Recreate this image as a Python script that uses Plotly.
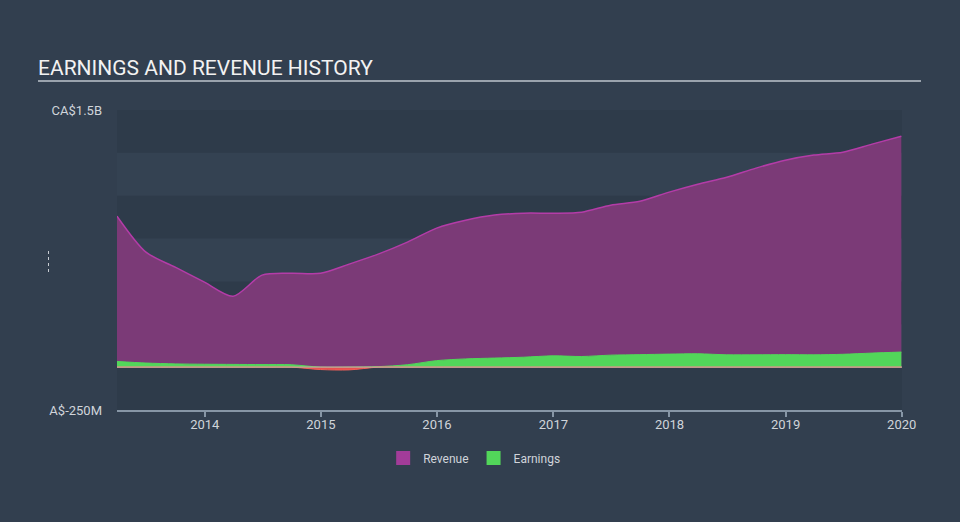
import plotly.graph_objects as go

dates = [
    "2013-03-31", "2013-06-30", "2013-09-30", "2013-12-31",
    "2014-03-31", "2014-06-30", "2014-09-30", "2014-12-31",
    "2015-03-31", "2015-06-30", "2015-09-30", "2015-12-31",
    "2016-03-31", "2016-06-30", "2016-09-30", "2016-12-31",
    "2017-03-31", "2017-06-30", "2017-09-30", "2017-12-31",
    "2018-03-31", "2018-06-30", "2018-09-30", "2018-12-31",
    "2019-03-31", "2019-06-30", "2019-09-30", "2019-12-31",
]
revenue_m = [881, 671, 583, 496, 414, 537, 548, 548,
             601, 659, 729, 811, 857, 887, 898, 898,
             904, 945, 968, 1021, 1067, 1108, 1161, 1207,
             1237, 1254, 1301, 1347]
earnings_m = [33, 24, 19, 17, 16, 15, 14, -14,
              -16, 3, 14, 38, 48, 53, 58, 66,
              62, 70, 73, 76, 78, 72, 72, 73,
              72, 75, 82, 88]

y_tick_vals = [-250e6, 1.5e9]
y_tick_text = ["A$-250M", "CA$1.5B"]
x_tick_vals = ["2014-01-01", "2015-01-01", "2016-01-01", "2017-01-01",
               "2018-01-01", "2019-01-01", "2020-01-01"]
x_tick_text = ["2014", "2015", "2016", "2017", "2018", "2019", "2020"]

revenue = [v * 1e6 for v in revenue_m]
earn_pos = [max(v, 0) * 1e6 for v in earnings_m]
earn_neg = [min(v, 0) * 1e6 for v in earnings_m]

REV_FILL = "#7b3a77"
REV_LINE = "#b43ca8"
EARN = "#52d65a"

fig = go.Figure()
fig.add_trace(go.Scatter(
    x=dates, y=revenue, name="Revenue", mode="lines", showlegend=False,
    line=dict(color=REV_LINE, width=1.5, shape="spline", smoothing=0.8),
    fill="tozeroy", fillcolor=REV_FILL,
))
fig.add_trace(go.Scatter(
    x=dates, y=earn_pos, name="Earnings", mode="lines", showlegend=False,
    line=dict(color=EARN, width=1, shape="spline", smoothing=0.8),
    fill="tozeroy", fillcolor=EARN,
))
fig.add_trace(go.Scatter(
    x=dates, y=earn_neg, name="Earnings (loss)", mode="lines", showlegend=False,
    line=dict(color="#f0605a", width=1, shape="spline", smoothing=0.8),
    fill="tozeroy", fillcolor="#e8504f",
))
# legend entries (square swatches)
fig.add_trace(go.Scatter(x=[None], y=[None], name="Revenue", mode="markers",
                         marker=dict(symbol="square", size=14, color="#a23c99")))
fig.add_trace(go.Scatter(x=[None], y=[None], name="Earnings", mode="markers",
                         marker=dict(symbol="square", size=14, color=EARN)))

# zero baseline
fig.add_shape(type="line", xref="paper", yref="y", x0=0, x1=1, y0=0, y1=0,
              line=dict(color="#c9a89c", width=1.2), layer="above")

# alternating bands
band_edges = [-250e6, 0, 250e6, 500e6, 750e6, 1000e6, 1250e6, 1500e6]
for i in range(len(band_edges) - 1):
    if i % 2 == 0:
        fig.add_shape(type="rect", xref="paper", yref="y", x0=0, x1=1,
                      y0=band_edges[i], y1=band_edges[i + 1],
                      fillcolor="#2e3b4a", line=dict(width=0), layer="below")

# title underline
fig.add_shape(type="line", xref="paper", yref="paper",
              x0=(38 - 117) / 785, x1=(921 - 117) / 785,
              y0=(410 - 81) / 300, y1=(410 - 81) / 300,
              line=dict(color="#9aa3ad", width=2))

# small dashed mark at left
fig.add_shape(type="line", xref="paper", yref="paper",
              x0=(48.5 - 117) / 785, x1=(48.5 - 117) / 785,
              y0=(410 - 272) / 300, y1=(410 - 250) / 300,
              line=dict(color="#c8ccd2", width=1, dash="dot"))

fig.update_layout(
    width=960, height=522,
    margin=dict(l=117, r=58, t=110, b=112),
    paper_bgcolor="#323f4f",
    plot_bgcolor="#344252",
    font=dict(family="Roboto, 'Open Sans', sans-serif", color="#d0d4da", size=12),
    title=dict(text="EARNINGS AND REVENUE HISTORY", x=38 / 960, xanchor="left",
               y=1 - 68 / 522, yanchor="middle",
               font=dict(size=21, color="#f2f2f2", family="Roboto, sans-serif")),
    showlegend=True,
    legend=dict(orientation="h", x=0.455, xanchor="center", y=-0.16, yanchor="middle",
                font=dict(size=12, color="#d0d4da"), bgcolor="rgba(0,0,0,0)",
                itemwidth=30, traceorder="normal"),
    hovermode=False,
)
fig.update_xaxes(
    type="date", range=["2013-03-31", "2020-01-02"],
    tickvals=x_tick_vals, ticktext=x_tick_text,
    showgrid=False, zeroline=False,
    showline=True, linecolor="#8796a6", linewidth=1.5,
    ticks="outside", ticklen=5, tickcolor="#8796a6", tickwidth=1.5,
    ticklabelstandoff=-3,
    tickfont=dict(size=13, color="#d0d4da"),
)
fig.update_yaxes(
    range=[-250e6, 1500e6], tickvals=y_tick_vals, ticktext=y_tick_text,
    showgrid=False, zeroline=False, showline=False, ticks="",
    ticklabelstandoff=14,
    tickfont=dict(size=13, color="#d0d4da"),
)

fig.write_html("out.html")
